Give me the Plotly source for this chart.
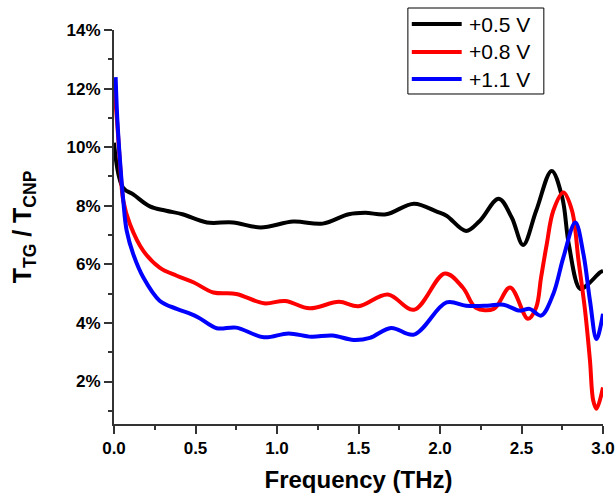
import plotly.graph_objects as go

# Transmission ratio T_TG / T_CNP (%) versus frequency (THz) for three gate voltages
freq_05 = [0.0, 0.055, 0.12, 0.22, 0.32, 0.42, 0.57, 0.73, 0.90, 1.10, 1.28, 1.44,
           1.54, 1.67, 1.84, 1.98, 2.04, 2.16, 2.245, 2.36, 2.44, 2.51, 2.59, 2.685,
           2.75, 2.79, 2.86, 2.91, 2.98, 3.0]
ratio_05 = [10.15, 8.62, 8.38, 7.98, 7.83, 7.71, 7.43, 7.43, 7.26, 7.46, 7.39, 7.71,
            7.76, 7.71, 8.07, 7.80, 7.66, 7.14, 7.49, 8.24, 7.6, 6.66, 7.83, 9.19,
            8.28, 6.69, 5.16, 5.33, 5.72, 5.78]

freq_08 = [0.0, 0.02, 0.04, 0.057, 0.098, 0.18, 0.28, 0.385, 0.49, 0.61, 0.75, 0.92,
           1.05, 1.20, 1.38, 1.50, 1.68, 1.84, 2.03, 2.14, 2.22, 2.33, 2.43, 2.54,
           2.59, 2.62, 2.655, 2.695, 2.757, 2.81, 2.85, 2.89, 2.92, 2.94, 2.96, 3.0]
ratio_08 = [12.2, 10.8, 9.2, 8.17, 7.37, 6.46, 5.89, 5.61, 5.38, 5.04, 4.99, 4.67,
            4.75, 4.50, 4.72, 4.57, 4.97, 4.45, 5.69, 5.21, 4.52, 4.48, 5.21, 4.14,
            4.53, 5.55, 6.69, 7.83, 8.45, 7.83, 6.12, 4.42, 2.72, 1.35, 1.07, 1.8]

freq_11 = [0.01, 0.02, 0.037, 0.057, 0.078, 0.118, 0.18, 0.28, 0.385, 0.47, 0.52,
           0.63, 0.75, 0.92, 1.07, 1.21, 1.34, 1.47, 1.57, 1.70, 1.84, 2.04, 2.16,
           2.29, 2.39, 2.49, 2.55, 2.62, 2.695, 2.757, 2.83, 2.88, 2.92, 2.96, 3.0]
ratio_11 = [12.39, 11.0, 9.53, 8.17, 7.14, 6.35, 5.55, 4.76, 4.48, 4.31, 4.18,
            3.82, 3.84, 3.51, 3.64, 3.53, 3.57, 3.42, 3.49, 3.83, 3.60, 4.70, 4.59,
            4.59, 4.62, 4.42, 4.48, 4.25, 4.99, 6.24, 7.43, 6.35, 4.76, 3.45, 4.31]

series = [
    ("+0.5 V", freq_05, ratio_05, "#000000"),
    ("+0.8 V", freq_08, ratio_08, "#ff0000"),
    ("+1.1 V", freq_11, ratio_11, "#0000ff"),
]

x_ticks = [0.0, 0.5, 1.0, 1.5, 2.0, 2.5, 3.0]
y_ticks = [2, 4, 6, 8, 10, 12, 14]

family = "Liberation Sans, Arial, sans-serif"
axis_font = dict(family=family, size=17, color="#000000")

fig = go.Figure()
for name, fx, fy, color in series:
    fig.add_trace(go.Scatter(
        x=fx, y=fy, name=name, mode="lines", showlegend=False,
        line=dict(color=color, width=4, shape="spline", smoothing=1.0),
    ))

# Boxed key in the upper right, with long line samples
box_x0, box_x1, box_y0, box_y1 = 0.601, 0.879, 0.8376, 1.0558
sample_x0, sample_x1, label_x = 0.609, 0.711, 0.722
row_y = [1.0152, 0.9442, 0.8756]

shapes = [dict(type="rect", xref="paper", yref="paper",
               x0=box_x0, x1=box_x1, y0=box_y0, y1=box_y1,
               line=dict(color="#000000", width=1), fillcolor="white", layer="above")]
annotations = []
for (name, _, _, color), ry in zip(series, row_y):
    shapes.append(dict(type="line", xref="paper", yref="paper",
                       x0=sample_x0, x1=sample_x1, y0=ry, y1=ry,
                       line=dict(color=color, width=4), layer="above"))
    annotations.append(dict(xref="paper", yref="paper", x=label_x, y=ry,
                            text=name, showarrow=False, xanchor="left", yanchor="middle",
                            font=dict(family=family, size=21, color="#000000")))

fig.update_layout(
    width=615, height=498,
    margin=dict(l=114, r=12, t=30, b=74, autoexpand=False),
    paper_bgcolor="white", plot_bgcolor="white",
    font=dict(family=family, color="#000000"),
    shapes=shapes, annotations=annotations,
    xaxis=dict(
        range=[0, 3.0], tickvals=x_ticks,
        ticktext=[f"<b>{v:.1f}</b>" for v in x_ticks],
        tickfont=axis_font, automargin=False,
        showline=True, linecolor="#333333", linewidth=2,
        ticks="outside", ticklen=8, tickwidth=2, tickcolor="#333333",
        minor=dict(ticks="outside", ticklen=4, tickwidth=2, tickcolor="#333333", dtick=0.25),
        showgrid=False, zeroline=False,
        title=dict(text="<b>Frequency (THz)</b>",
                   font=dict(size=24, family=family), standoff=14),
    ),
    yaxis=dict(
        range=[0.55, 14], tickvals=y_ticks,
        ticktext=[f"<b>{v}%</b>" for v in y_ticks],
        tickfont=axis_font, automargin=False,
        showline=True, linecolor="#333333", linewidth=2,
        ticks="outside", ticklen=8, tickwidth=2, tickcolor="#333333",
        minor=dict(ticks="outside", ticklen=4, tickwidth=2, tickcolor="#333333",
                   tickvals=[1, 3, 5, 7, 9, 11, 13]),
        showgrid=False, zeroline=False,
        title=dict(text="<b>T<sub>TG</sub> / T<sub>CNP</sub></b>",
                   font=dict(size=25, family=family), standoff=28),
    ),
)

fig.write_html("out.html")
